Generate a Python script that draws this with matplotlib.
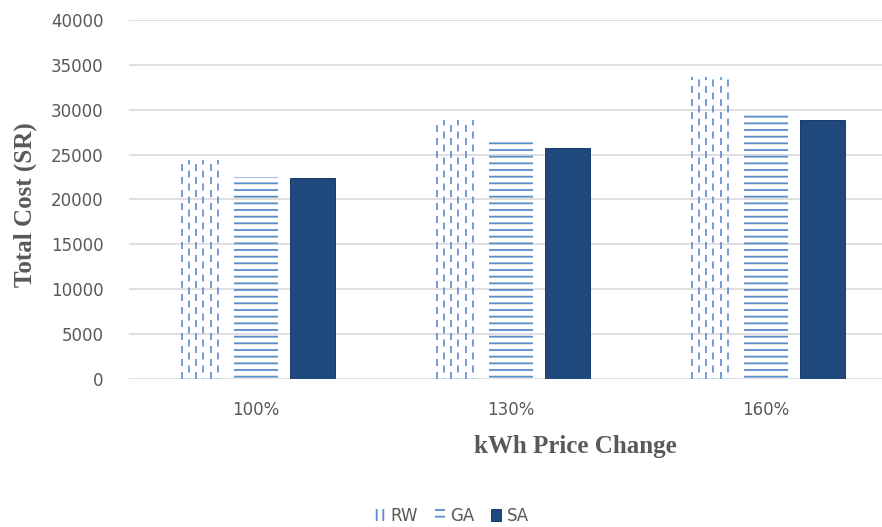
import matplotlib

matplotlib.use("Agg")
import matplotlib as mpl
import matplotlib.pyplot as plt
from matplotlib.patches import Patch
import numpy as np

categories = ["100%", "130%", "160%"]
series_names = ["RW", "GA", "SA"]
rw_cost = [24400, 28900, 33700]
ga_cost = [22500, 26450, 29500]
sa_cost = [22350, 25700, 28850]
y_ticks = [0, 5000, 10000, 15000, 20000, 25000, 30000, 35000, 40000]

HATCH_BLUE = "#5B8CCB"
NAVY = "#1F497D"
GRID = "#D9D9D9"
TEXT = "#595959"

mpl.rcParams["lines.scale_dashes"] = False
mpl.rcParams["hatch.linewidth"] = 1.1

fig = plt.figure(figsize=(7.35, 527 / 120), dpi=120)
ax = fig.add_axes([128.5 / 882, 148 / 527, 765 / 882, 359 / 527])

x = np.arange(len(categories))
step = 0.22
width = 0.176

# RW: dashed vertical strokes inside an unfilled bar, alternate columns staggered
ax.bar(x - step, rw_cost, width, facecolor="none", linewidth=0, zorder=3)
col_offsets = (np.arange(6) - 2.5) * 0.0282
for i, cx in enumerate(x - step):
    for k, off in enumerate(col_offsets):
        shift = 0.0 if k % 2 == 0 else 3.9
        ax.vlines(cx + off, 0, rw_cost[i], colors=HATCH_BLUE, linewidth=1.0,
                  linestyles=[(shift, (4.2, 3.6))], zorder=3)

ga_bars = ax.bar(x, ga_cost, width, facecolor="none", edgecolor=HATCH_BLUE,
                 hatch="---", linewidth=0, zorder=3)
sa_bars = ax.bar(x + step, sa_cost, width, color=NAVY, edgecolor="#1A3E6B",
                 linewidth=0.6, zorder=3)

ax.set_xlim(-0.5, 2.5)
ax.set_ylim(0, 40000)
ax.set_yticks(y_ticks)
ax.set_yticklabels([str(v) for v in y_ticks])
ax.set_xticks(x)
ax.set_xticklabels(categories)
ax.grid(axis="y", color=GRID, linewidth=1.0, zorder=0)
ax.tick_params(axis="both", length=0, labelsize=10, labelcolor=TEXT)
ax.tick_params(axis="y", pad=15)
ax.tick_params(axis="x", pad=13)
for side in ["top", "right", "left", "bottom"]:
    ax.spines[side].set_visible(False)

fig.text(25 / 882, 1 - 205 / 527, "Total Cost (SR)", rotation=90,
         ha="center", va="center", family="Liberation Serif",
         fontweight="bold", fontsize=15, color=TEXT)
fig.text(575 / 882, 1 - 447 / 527, "kWh Price Change", ha="center",
         va="center", family="Liberation Serif", fontweight="bold",
         fontsize=15, color=TEXT)

rw_handle = Patch(facecolor="none", edgecolor=HATCH_BLUE, hatch="|||", linewidth=0)
handles = [rw_handle, ga_bars[0], sa_bars[0]]
leg = fig.legend(handles, series_names, loc="center",
                 bbox_to_anchor=(452 / 882, 1 - 516 / 527), ncol=3,
                 frameon=False, fontsize=10, handlelength=0.6,
                 handleheight=0.7, handletextpad=0.35, columnspacing=1.0)
for text in leg.get_texts():
    text.set_color(TEXT)

fig.savefig("out.png", dpi=120)
